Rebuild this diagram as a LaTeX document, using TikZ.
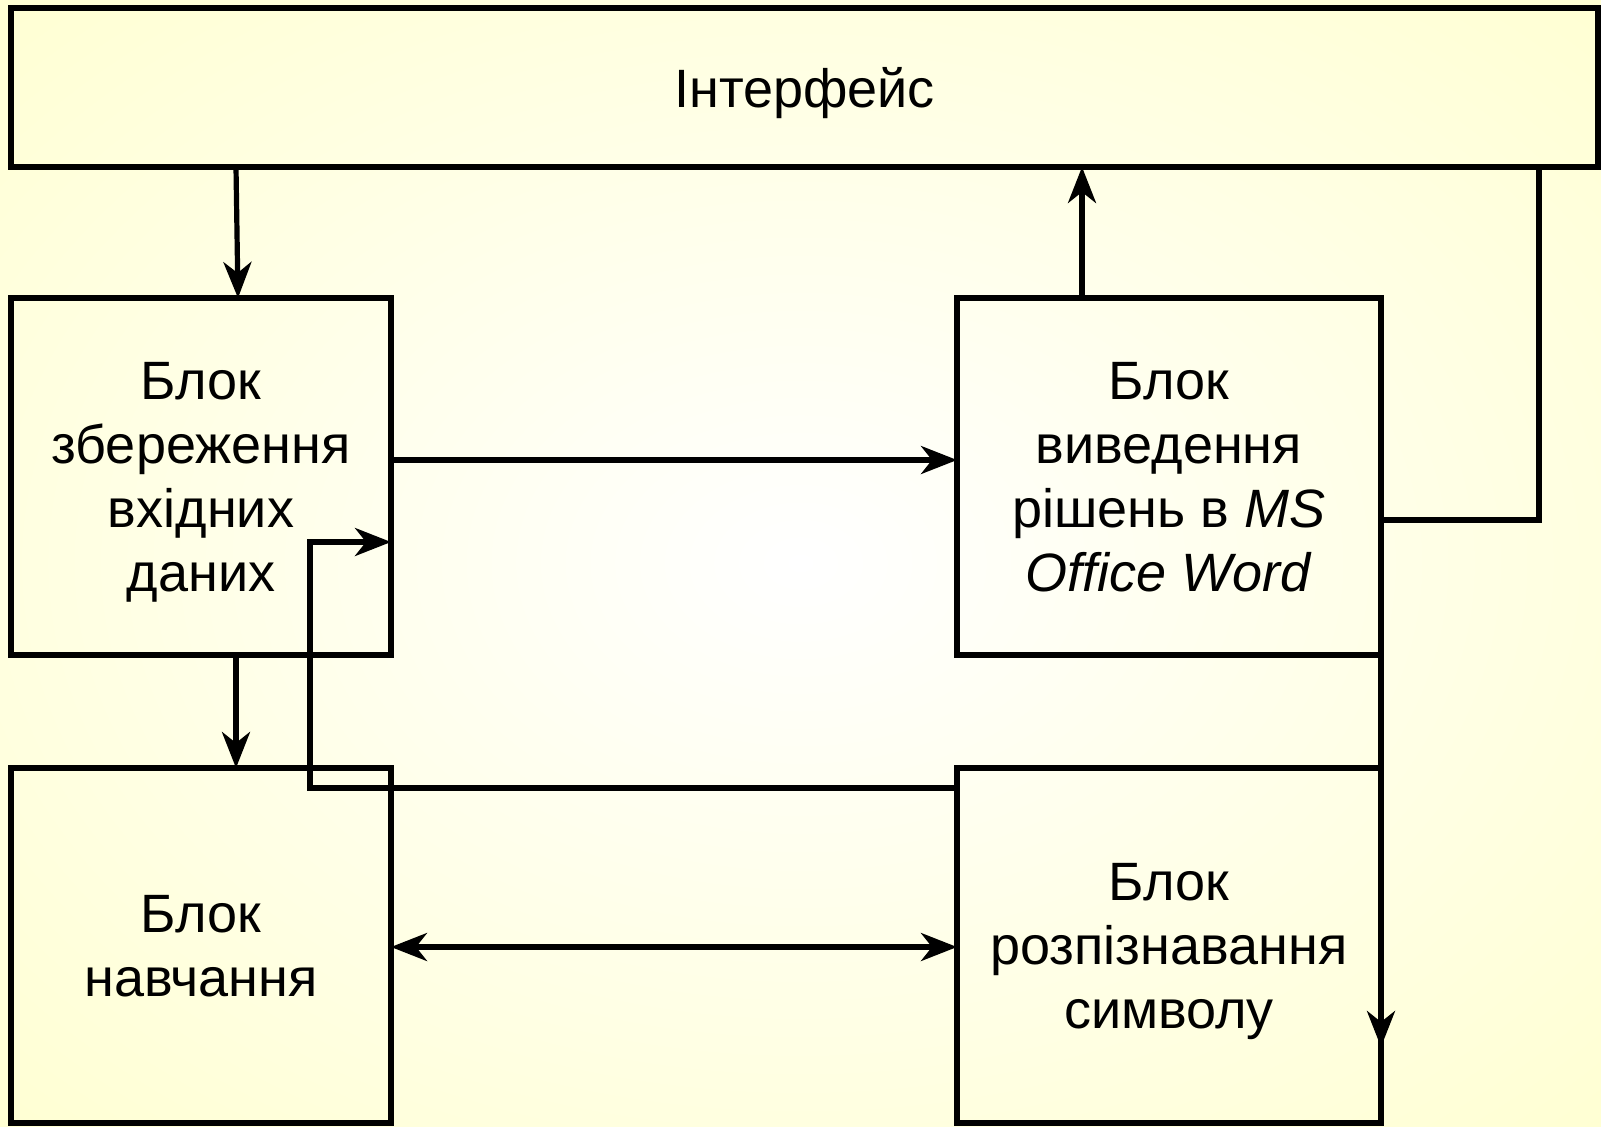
\documentclass[tikz,border=0pt]{standalone}
\usepackage{fontspec}
\setmainfont{Liberation Sans}
\usetikzlibrary{arrows.meta,calc}
\definecolor{bgA}{RGB}{255,255,240}
\definecolor{bgB}{RGB}{255,255,210}
\definecolor{bgC}{RGB}{255,255,192}
\definecolor{bgD}{RGB}{255,255,170}
\pgfdeclareradialshading{bgshade}{\pgfpointorigin}{color(0bp)=(white); color(8bp)=(bgA); color(25bp)=(bgB); color(36bp)=(bgC); color(50bp)=(bgD)}
\begin{document}
\begin{tikzpicture}[x=0.5pt,y=-0.5pt,
  blk/.style={draw=black, line width=2.6pt, inner sep=0pt, outer sep=0pt,
    align=center, text depth=0pt, font=\fontsize{27}{32}\selectfont},
  tipS/.tip={Stealth[length=18pt,width=14pt,inset=5.5pt]},
  wire/.style={line width=2.6pt, draw=black},
  conn/.style={wire, -tipS},
  conn2/.style={wire, tipS-tipS}]
\useasboundingbox (0,0) rectangle (1601,1126);
\begin{scope}
  \clip (0,0) rectangle (1601,1126);
  \fill[bgD] (0,0) rectangle (1601,1126);
  \shade[shading=bgshade] (800.5,563) ellipse (1160 and 816);
\end{scope}

\node[blk, minimum width=793.5pt, minimum height=79.5pt] (intf) at (804.5,87.5) {Інтерфейс};
\node[blk, minimum width=190pt, minimum height=178.5pt] (b1) at (201,476.5)
  {Блок\\збереження\\вхідних\\даних};
\node[blk, minimum width=212pt, minimum height=178.5pt] (b2) at (1169,476.5)
  {Блок\\виведення\\рішень в \textit{MS}\\\textit{Office Word}};
\node[blk, minimum width=190pt, minimum height=177.5pt] (b3) at (201,945.5)
  {Блок\\навчання};
\node[blk, minimum width=212pt, minimum height=177.5pt] (b4) at (1169,945.5)
  {Блок\\розпізнавання\\символу};

% Interface -> storage
\draw[conn] ($(intf.south west)+(225,0)$) -- ($(b1.north)+(37,0)$);
% storage -> output
\draw[conn] ($(b1.north east)+(0,162)$) -- ($(b2.north west)+(0,162)$);
% output -> interface
\draw[conn] ($(b2.north west)+(125,0)$) coordinate (up) -- (up |- intf.south);
% output right side -> interface
\draw[wire] ($(b2.north east)+(0,222)$) -| ($(intf.south east)+(-59,0)$);
% storage -> learning
\draw[conn] ($(b1.south west)+(225,0)$) -- ($(b3.north west)+(225,0)$);
% learning <-> recognition
\draw[conn2] ($(b3.north east)+(0,179)$) -- ($(b4.north west)+(0,179)$);
% recognition -> storage
\draw[conn] ($(b4.north west)+(0,20)$) -- ++(-647,0) |- ($(b1.north east)+(0,244)$);
% output -> recognition (right edge)
\coordinate (rtip) at ($(b4.north east)+(0,279)$);
\draw[conn] (b2.south east) -- (rtip);
\end{tikzpicture}
\end{document}
